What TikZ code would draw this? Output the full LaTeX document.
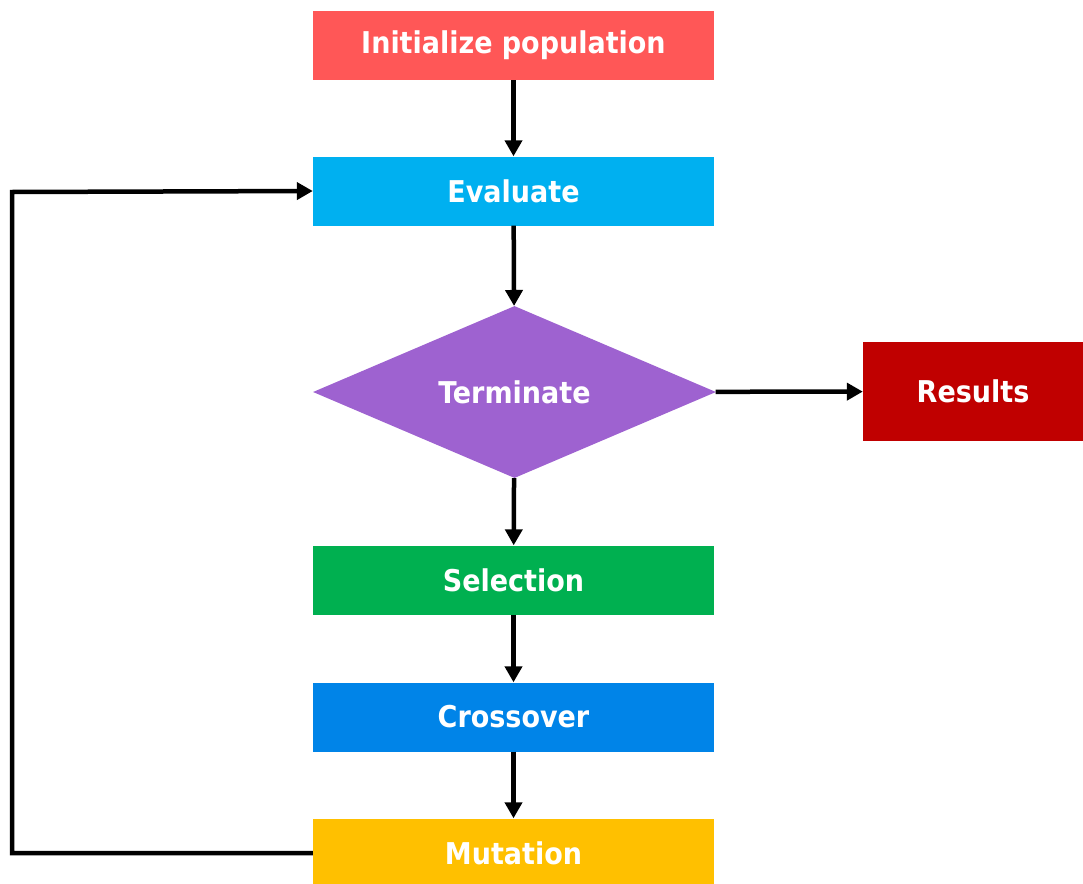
\documentclass[tikz,border=0pt]{standalone}
\usepackage{fontspec}
\setmainfont{DejaVu Sans Condensed}
\usetikzlibrary{arrows.meta,shapes.geometric}
\definecolor{cinit}{HTML}{FF5757}
\definecolor{ceval}{HTML}{00B0F0}
\definecolor{cterm}{HTML}{9E62D0}
\definecolor{cres}{HTML}{C00000}
\definecolor{csel}{HTML}{00B050}
\definecolor{ccross}{HTML}{0084E8}
\definecolor{cmut}{HTML}{FFC000}
\tikzset{
  lbl/.style={text=white, font=\fontsize{30}{34}\selectfont\bfseries},
  stepbox/.style={rectangle, minimum width=401pt, minimum height=69pt, inner sep=0pt, lbl},
  decide/.style={diamond, minimum width=403pt, minimum height=172pt, aspect=2.34, inner sep=0pt, lbl, fill=cterm},
  conn/.style={line width=4.5pt, -{Triangle[length=16pt,width=17pt]}},
}
\begin{document}
\begin{tikzpicture}[x=1pt,y=-1pt]
\useasboundingbox (0,0) rectangle (1083,883);
\clip (0,0) rectangle (1083,883);
\node[stepbox, fill=cinit] (init) at (513.5,45.5) {Initialize population};
\node[stepbox, fill=ceval] (eval) at (513.5,191) {Evaluate};
\node[decide] (term) at (514.5,392) {Terminate};
\node[rectangle, minimum width=220pt, minimum height=99pt, inner sep=0pt, fill=cres, lbl] (res) at (973,391.5) {Results};
\node[stepbox, fill=csel] (sel) at (513.5,580) {Selection};
\node[stepbox, fill=ccross] (cross) at (513.5,717) {Crossover};
\node[stepbox, fill=cmut] (mut) at (513.5,853) {Mutation};
\coordinate (lb) at (12,853);
\coordinate (lt) at (12,192);
\draw[conn] (init) -- (eval);
\draw[conn] (eval) -- (term);
\draw[conn] (term) -- (sel);
\draw[conn] (term) -- (res);
\draw[conn] (sel) -- (cross);
\draw[conn] (cross) -- (mut);
\draw[conn, line join=miter] (mut.west) -- (lb) -- (lt) -- (eval.west);
\end{tikzpicture}
\end{document}
